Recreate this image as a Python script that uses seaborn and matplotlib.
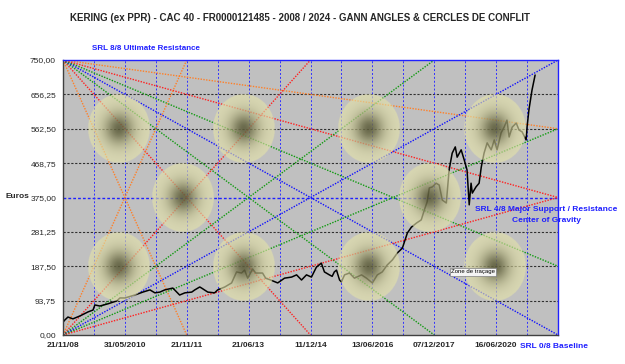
import numpy as np
import pandas as pd
import matplotlib
matplotlib.use("Agg")
import matplotlib.pyplot as plt
import seaborn as sns

# ---------------- data ----------------
title = "KERING (ex PPR) - CAC 40 - FR0000121485 - 2008 / 2024 - GANN ANGLES & CERCLES DE CONFLIT"
date_labels = ["21/11/08", "31/05/2010", "21/11/11", "21/06/13", "11/12/14",
               "13/06/2016", "07/12/2017", "16/06/2020", ""]
y_ticks = [0.0, 93.75, 187.5, 281.25, 375.0, 468.75, 562.5, 656.25, 750.0]

# time position (in grid periods, 0..16) and closing price (euros)
period = [0.00, 0.06, 0.16, 0.32, 0.55, 0.81, 0.97, 1.03, 1.19, 1.45,
          1.74, 1.84, 2.00, 2.32, 2.58, 2.81, 2.97, 3.13, 3.29, 3.55,
          3.77, 3.94, 4.16, 4.26, 4.42, 4.48, 4.68, 4.90, 5.00, 5.23,
          5.45, 5.61, 5.77, 5.87, 5.97, 6.13, 6.23, 6.45, 6.55, 6.71,
          6.94, 7.16, 7.39, 7.55, 7.71, 7.87, 8.03, 8.19, 8.35, 8.45,
          8.61, 8.70, 8.77, 8.84, 8.94, 9.00, 9.10, 9.26, 9.42, 9.65,
          9.81, 10.00, 10.16, 10.32, 10.48, 10.65, 10.81, 10.97, 11.13, 11.26,
          11.42, 11.58, 11.68, 11.77, 11.84, 11.94, 12.06, 12.16, 12.26, 12.39,
          12.48, 12.58, 12.68, 12.74, 12.87, 12.97, 13.06, 13.13, 13.19, 13.23,
          13.35, 13.45, 13.52, 13.61, 13.71, 13.84, 13.94, 14.03, 14.16, 14.26,
          14.35, 14.42, 14.52, 14.65, 14.74, 14.84, 14.97, 15.00, 15.06, 15.16,
          15.26]
price = [35, 41, 49, 44, 52, 63, 68, 82, 79, 85,
         93, 101, 101, 109, 117, 123, 115, 117, 123, 128,
         109, 115, 117, 123, 131, 128, 117, 115, 123, 131,
         142, 172, 169, 177, 155, 180, 169, 169, 155, 150,
         142, 155, 158, 164, 150, 164, 158, 185, 196, 172,
         164, 160, 172, 177, 150, 145, 164, 169, 155, 164,
         155, 142, 164, 172, 191, 205, 224, 237, 278, 294,
         305, 314, 341, 363, 401, 404, 414, 409, 368, 360,
         450, 496, 513, 485, 505, 477, 450, 355, 414, 387,
         404, 414, 458, 496, 524, 505, 532, 505, 551, 567,
         586, 540, 567, 578, 559, 554, 532, 567, 614, 668,
         709]

# Gann fan end points (period, euros) from the two left corners
fan_from_top = [(4, 0), (8, 0), (12, 0), (16, 0), (16, 187.5), (16, 375), (16, 562.5)]
fan_from_bottom = [(4, 750), (8, 750), (12, 750), (16, 750), (16, 562.5), (16, 375)]
fan_colors_top = ["#ff7f27", "#ff2020", "#109a10", "#1010ff", "#109a10", "#ff2020", "#ff7f27"]
fan_colors_bottom = ["#ff7f27", "#ff2020", "#109a10", "#1010ff", "#109a10", "#ff2020"]

# conflict circles (centre period, centre euros)
circle_x = [1.8, 5.85, 9.9, 13.95, 3.88, 11.85, 1.8, 5.85, 9.9, 13.95]
circle_y = [562.5, 562.5, 562.5, 562.5, 375, 375, 187.5, 187.5, 187.5, 187.5]

# ---------------- figure ----------------
sns.set_style("white")
plt.rcParams["font.family"] = ["Liberation Sans", "DejaVu Sans"]

fig = plt.figure(figsize=(6.25, 3.64), dpi=100)
ax = fig.add_axes([63 / 625, 1 - 335 / 364, 495 / 625, 275 / 364])
ax.set_facecolor("#c0c0c0")

# grid
for yv in y_ticks[1:-1]:
    if yv == 375.0:
        ax.axhline(yv, color="#2020ff", lw=1.0, ls=(0, (2, 1.5)), zorder=2)
    else:
        ax.axhline(yv, color="#303030", lw=0.8, ls=(0, (2, 1.5)), zorder=2)
for xv in range(1, 16):
    ax.axvline(xv, color="#3030ff", lw=0.7, ls=(0, (2, 2)), zorder=2)

# price
df = pd.DataFrame({"period": period, "price": price})
sns.lineplot(data=df, x="period", y="price", color="black", lw=1.1, ax=ax,
             zorder=4, estimator=None, sort=False)

# fans
for (ex, ey), c in zip(fan_from_top, fan_colors_top):
    fd = pd.DataFrame({"x": [0, ex], "y": [750, ey]})
    sns.lineplot(data=fd, x="x", y="y", color=c, lw=1.0, ls=(0, (1, 1)), ax=ax,
                 zorder=3, estimator=None, sort=False)
for (ex, ey), c in zip(fan_from_bottom, fan_colors_bottom):
    fd = pd.DataFrame({"x": [0, ex], "y": [0, ey]})
    sns.lineplot(data=fd, x="x", y="y", color=c, lw=1.0, ls=(0, (1, 1)), ax=ax,
                 zorder=3, estimator=None, sort=False)

# circles with radial gradient
n = 160
g = np.linspace(-1, 1, n)
XX, YY = np.meshgrid(g, g)
R = np.sqrt(XX ** 2 + YY ** 2)
w = 0.85 * np.exp(-(R / 0.5) ** 2)
beige = np.array([232, 230, 172]) / 255
dark = np.array([70, 70, 40]) / 255
rgba = np.zeros((n, n, 4))
for k in range(3):
    rgba[..., k] = beige[k] * (1 - w) + dark[k] * w
rgba[..., 3] = np.where(R <= 1, 0.62 + 0.3 * w, 0.0)
for cx, cy in zip(circle_x, circle_y):
    ax.imshow(rgba, extent=(cx - 1, cx + 1, cy - 93.75, cy + 93.75),
              aspect="auto", interpolation="bilinear", zorder=5)

ax.set_xlim(0, 16)
ax.set_ylim(0, 750)
ax.set_xlabel("")
ax.set_ylabel("")

# ticks
ax.set_xticks(range(0, 17))
ax.set_xticklabels([date_labels[i // 2] if i % 2 == 0 else "" for i in range(17)],
                   fontsize=6, fontweight="bold")
ax.set_yticks(y_ticks)
ax.set_yticklabels([f"{v:.2f}".replace(".", ",") for v in y_ticks], fontsize=6)
ax.tick_params(axis="x", length=3, width=0.6, color="#404040", pad=2)
ax.tick_params(axis="y", length=3, width=0.6, color="#404040", pad=2)
for s in ["left", "bottom"]:
    ax.spines[s].set_color("#404040")
    ax.spines[s].set_linewidth(1.0)
for s in ["top", "right"]:
    ax.spines[s].set_color("#2020ff")
    ax.spines[s].set_linewidth(1.0)
for s in ax.spines.values():
    s.set_zorder(6)

# texts
fig.text(300 / 625, 1 - 18 / 364, title, ha="center", va="center",
         fontsize=7, fontweight="bold")
fig.text(92 / 625, 1 - 48 / 364, "SRL 8/8 Ultimate Resistance", ha="left", va="center",
         fontsize=5.8, fontweight="bold", color="#2020ff")
fig.text(5 / 625, 1 - 197 / 364, "Euros", ha="left", va="center",
         fontsize=6, fontweight="bold")
fig.text(546 / 625, 1 - 210 / 364, "SRL 4/8 Major Support / Resistance", ha="center",
         va="center", fontsize=6, fontweight="bold", color="#2020ff", zorder=7)
fig.text(546 / 625, 1 - 221 / 364, "Center of Gravity", ha="center",
         va="center", fontsize=6, fontweight="bold", color="#2020ff", zorder=7)
fig.text(520 / 625, 1 - 346 / 364, "SRL 0/8 Baseline", ha="left",
         va="center", fontsize=6, fontweight="bold", color="#2020ff")
fig.text(451 / 625, 1 - 272 / 364, "Zone de traçage", ha="left", va="center",
         fontsize=4.3, color="black", zorder=8,
         bbox=dict(boxstyle="square,pad=0.25", fc="#f4f4f4", ec="#808080", lw=0.5))

fig.savefig("out.png", dpi=100)
